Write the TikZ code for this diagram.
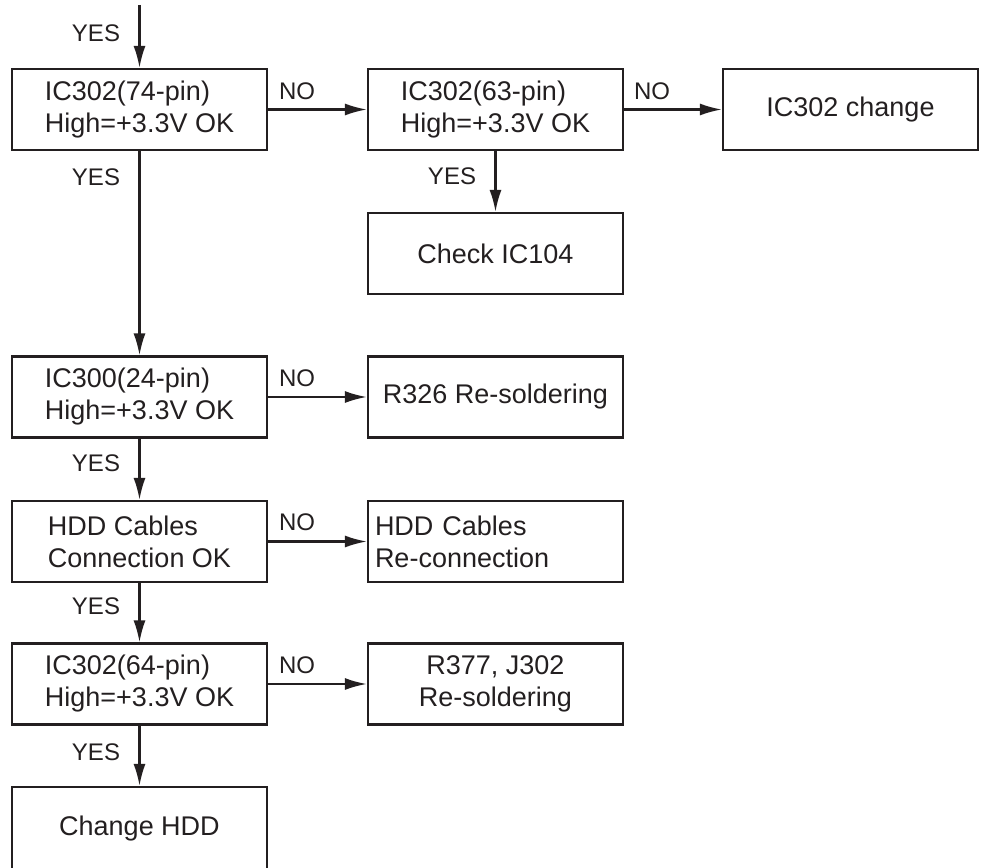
\documentclass[tikz,border=0pt]{standalone}
\usepackage{fontspec}
\setmainfont{Liberation Sans}
\usetikzlibrary{arrows.meta}
\definecolor{ink}{HTML}{231F20}

\begin{document}
\begin{tikzpicture}[x=1pt, y=-1pt, color=ink, line width=2.2pt,
    box/.style={draw, minimum width=255pt, minimum height=81pt, inner sep=0pt,
      align=left, font=\fontsize{27}{32}\selectfont},
    lbl/.style={inner sep=0pt, font=\fontsize{24}{28}\selectfont},
    go/.style={-{Latex[length=22pt, width=12pt]}}]
  \useasboundingbox (0, 0) rectangle (982, 867);

  \coordinate (top) at (139.5, 5);
  \node[lbl] (y0) at (96, 33) {YES};

  \node[box] (b74) at (139.5, 109.5) {IC302(74-pin)\\High=+3.3V OK};
  \node[box] (b63) at (495.5, 109.5) {IC302(63-pin)\\High=+3.3V OK};
  \node[box] (chg) at (850.5, 109.5) {IC302 change};

  \draw[go] (top) -- (b74);
  \draw[go] (b74) -- (b63);
  \draw[go] (b63) -- (chg);
  \node[lbl] (n74) at (297, 91) {NO};
  \node[lbl] (n63) at (652, 91) {NO};

  \node[box] (c104) at (495.5, 253.5) {Check IC104};

  \draw[go] (b63) -- (c104);
  \node[lbl] (y63) at (452, 176) {YES};
  \node[lbl] (y74) at (96, 177) {YES};

  \node[box] (b24) at (139.5, 397) {IC300(24-pin)\\High=+3.3V OK};
  \node[box] (r326) at (495.5, 397) {R326 Re-soldering};

  \draw[go] (b74) -- (b24);
  \draw[go] (b24) -- (r326);
  \node[lbl] (n24) at (297, 378) {NO};
  \node[lbl] (y24) at (96, 463) {YES};

  \node[box] (hdd) at (139.5, 541.5) {HDD Cables\\Connection OK};
  \node[box, text width=241pt] (recon) at (495.5, 541.5) {HDD Cables\\Re-connection};

  \draw[go] (b24) -- (hdd);
  \draw[go] (hdd) -- (recon);
  \node[lbl] (nhdd) at (297, 522) {NO};
  \node[lbl] (yhdd) at (96, 606) {YES};

  \node[box] (b64) at (139.5, 684) {IC302(64-pin)\\High=+3.3V OK};
  \node[box, align=center] (r377) at (495.5, 684) {R377, J302\\Re-soldering};

  \draw[go] (hdd) -- (b64);
  \draw[go] (b64) -- (r377);
  \node[lbl] (n64) at (297, 665) {NO};
  \node[lbl] (y64) at (96, 752) {YES};

  \node[box, minimum height=84pt] (chdd) at (139.5, 829) {Change HDD};

  \draw[go] (b64) -- (chdd);
\end{tikzpicture}
\end{document}
